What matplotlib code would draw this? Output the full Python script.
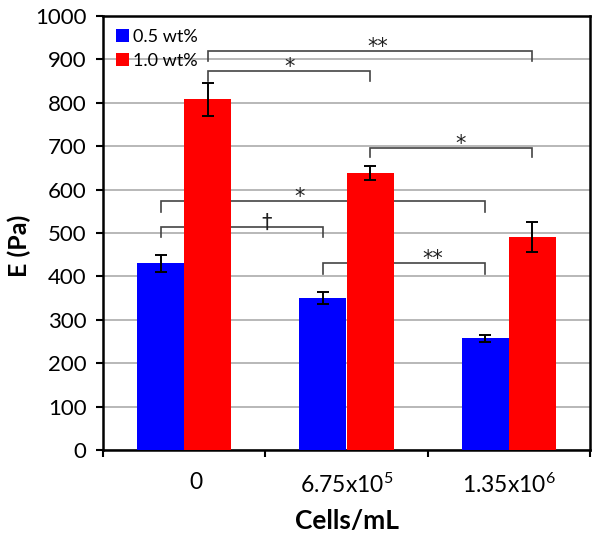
import matplotlib
matplotlib.use("Agg")
import matplotlib.pyplot as plt
import matplotlib.transforms as mtransforms
import numpy as np

plt.rcParams['font.family'] = ['Lato', 'DejaVu Sans']
plt.rcParams['mathtext.default'] = 'regular'

categories = ['0', '6.75x10$^5$', '1.35x10$^6$']
series_names = ['0.5 wt%', '1.0 wt%']
low_vals = [430, 350, 258]
low_err = [20, 13, 8]
high_vals = [808, 638, 491]
high_err = [38, 16, 35]
y_ticks = [0, 100, 200, 300, 400, 500, 600, 700, 800, 900, 1000]

# significance brackets: (group_a, series_a, group_b, series_b, top, leg_a, leg_b, label, label_x)
brackets = [
    (0, 1, 2, 1, 920, 897, 897, '**', 1.19),
    (0, 1, 1, 1, 874, 851, 851, '*', 0.65),
    (1, 1, 2, 1, 697, 674, 674, '*', 1.70),
    (0, 0, 2, 0, 574, 549, 549, '*', 0.71),
    (0, 0, 1, 0, 514, 491, 491, '\u2020', 0.51),
    (1, 0, 2, 0, 430, 406, 406, '**', 1.53),
]

W, H = 602, 538
fig = plt.figure(figsize=(W / 100, H / 100), dpi=100)
ax = fig.add_axes([103 / W, (H - 450) / H, (590 - 103) / W, (450 - 16) / H])

x = np.arange(len(categories))
bw = 0.29
offs = [-bw / 2, bw / 2]
ekw = dict(elinewidth=1.4, capthick=1.4, ecolor='black')
ax.bar(x + offs[0], low_vals, bw, color='#0000FF', label=series_names[0], zorder=3,
       yerr=low_err, capsize=4, error_kw=ekw)
ax.bar(x + offs[1], high_vals, bw, color='#FF0000', label=series_names[1], zorder=3,
       yerr=high_err, capsize=4, error_kw=ekw)

for ga, sa, gb, sb, top, la, lb, lab, lx in brackets:
    xa = x[ga] + offs[sa]
    xb = x[gb] + offs[sb]
    ax.plot([xa, xa, xb, xb], [la, top, top, lb], color='#444444', lw=1.2, zorder=2,
            solid_joinstyle='miter')
    ax.text(lx, top - 14, lab, ha='center', va='bottom', fontsize=15, color='#222222',
            zorder=4, family='DejaVu Sans')

ax.set_xlim(-0.5, 2.5)
ax.set_ylim(0, 1000)
ax.set_yticks(y_ticks)
ax.set_yticklabels([str(v) for v in y_ticks])
ax.yaxis.grid(True, color='#ababab', lw=1.2, zorder=0)
ax.set_axisbelow(True)

ax.set_xticks(x)
ax.set_xticklabels(categories)
ax.set_xticks([-0.5, 0.5, 1.5, 2.5], minor=True)
ax.tick_params(axis='x', which='major', length=0, labelsize=16.5, pad=16)
ax.tick_params(axis='x', which='minor', length=5, width=1.5, direction='out')
ax.tick_params(axis='y', which='major', length=5, width=1.5, direction='out', labelsize=16, pad=7)
lbl0 = ax.get_xticklabels()[0]
lbl0.set_transform(lbl0.get_transform() + mtransforms.ScaledTranslation(12 / 100, 0, fig.dpi_scale_trans))

for s in ax.spines.values():
    s.set_linewidth(1.8)
    s.set_color('black')

ax.set_ylabel('E (Pa)', fontsize=18, fontweight='bold')
ax.yaxis.set_label_coords(-0.148, 0.47)
ax.set_xlabel('Cells/mL', fontsize=19, fontweight='bold', labelpad=9)

ax.legend(loc='upper left', frameon=False, fontsize=13, handlelength=0.75, handleheight=0.75,
          handletextpad=0.2, labelspacing=0.45, borderaxespad=0.5, borderpad=0.2)

fig.savefig('out.png', dpi=100)
